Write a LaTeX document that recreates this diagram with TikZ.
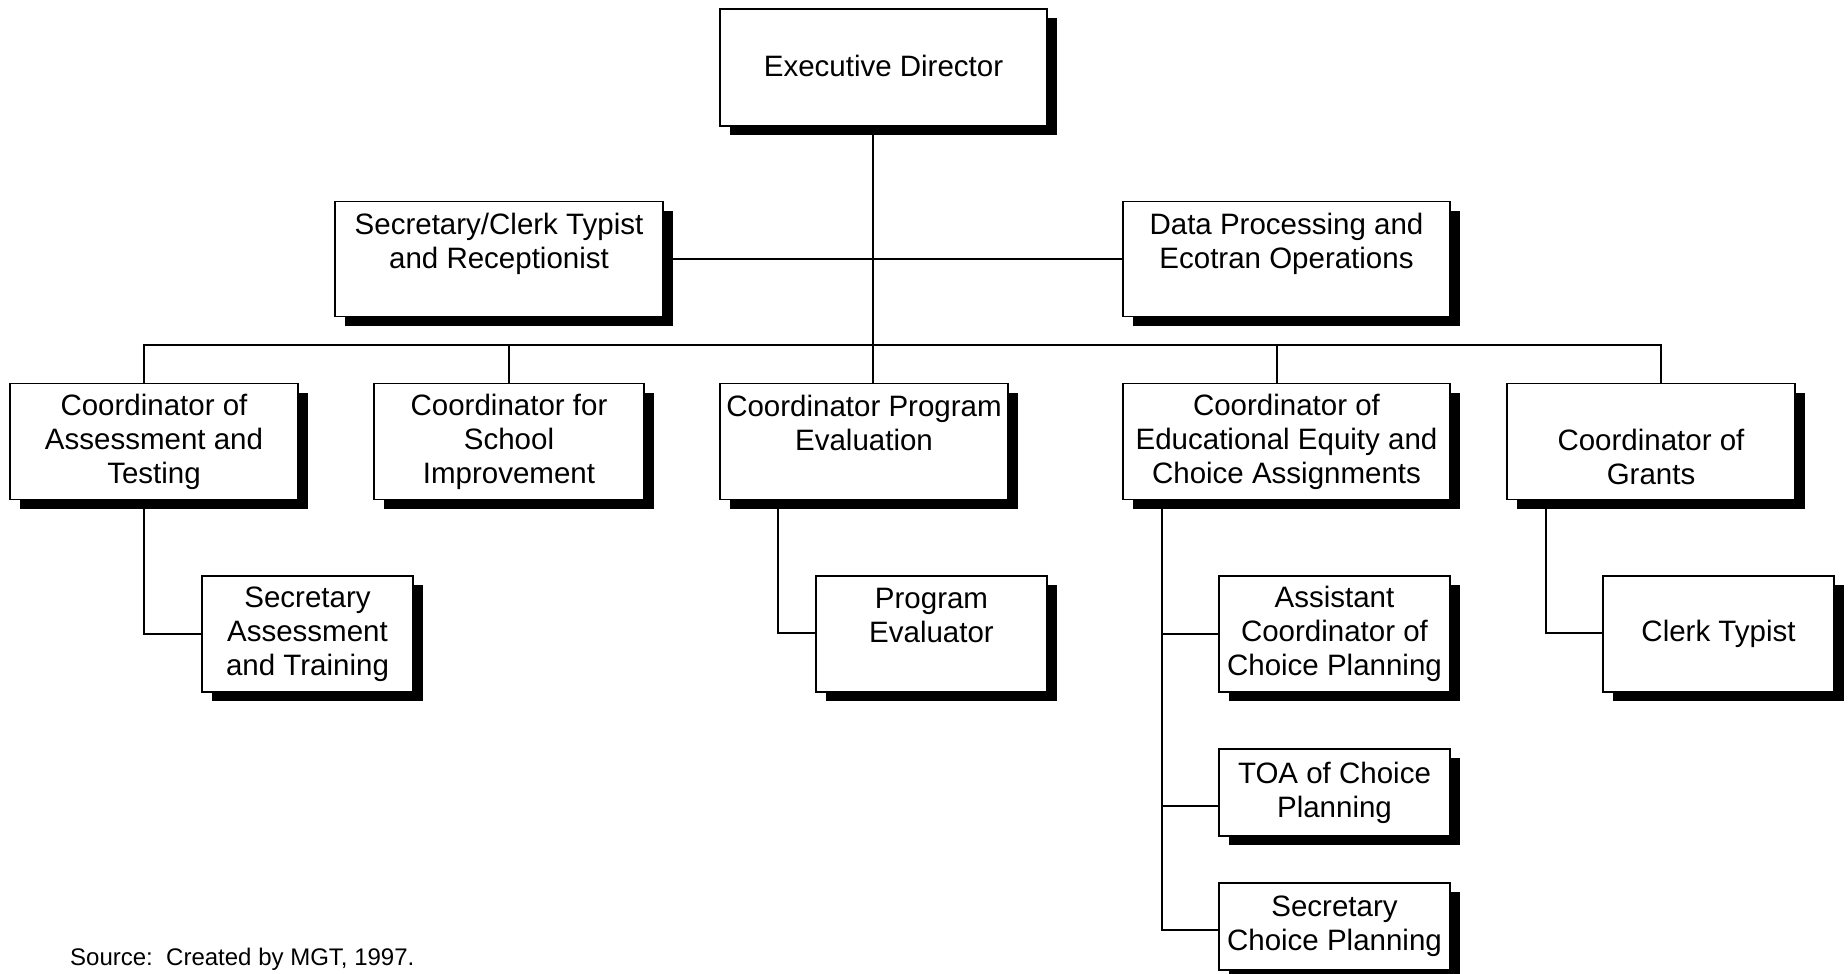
\documentclass[tikz,border=0pt]{standalone}
\usepackage{fontspec}
\setmainfont{Liberation Sans}
\usetikzlibrary{shadows}
\tikzset{
  box/.style={draw=black, line width=1.8pt, fill=white, rectangle, inner sep=0pt,
    align=center, font=\fontsize{29.5}{34}\selectfont,
    drop shadow={shadow xshift=10pt, shadow yshift=-9pt, opacity=1, fill=black}},
  link/.style={draw=black, line width=1.8pt},
}
\begin{document}
\begin{tikzpicture}[x=1pt,y=-1pt]
\useasboundingbox (0,0) rectangle (1848,974);
% boxes
\node[box, minimum width=327pt, minimum height=117pt] (ed) at (883.5,67.5) {\raisebox{2.5pt}{Executive Director}};
\node[box, minimum width=328pt, minimum height=115pt] (sec) at (499,259) {Secretary/Clerk Typist\\and Receptionist\\[-7pt]\strut};
\node[box, minimum width=327pt, minimum height=115pt] (dp) at (1286.5,259) {Data Processing and\\Ecotran Operations\\[-7pt]\strut};
\node[box, minimum width=288pt, minimum height=116pt] (ca) at (154,441.5) {Coordinator of\\Assessment and\\Testing};
\node[box, minimum width=270pt, minimum height=116pt] (cs) at (509,441.5) {Coordinator for\\School\\Improvement};
\node[box, minimum width=288pt, minimum height=116pt] (cp) at (864,441.5) {Coordinator Program\\Evaluation\\[-7pt]\strut};
\node[box, minimum width=327pt, minimum height=116pt] (ce) at (1286.5,441.5) {Coordinator of\\Educational Equity and\\Choice Assignments};
\node[box, minimum width=288pt, minimum height=116pt] (cg) at (1651,441.5) {\strut\\[-5pt]Coordinator of\\Grants};
\node[box, minimum width=211pt, minimum height=116pt] (sa) at (307.5,634) {Secretary\\Assessment\\and Training};
\node[box, minimum width=231pt, minimum height=116pt] (pe) at (931.5,634) {Program\\Evaluator\\[-7pt]\strut};
\node[box, minimum width=231pt, minimum height=116pt] (ac) at (1334.5,634) {Assistant\\Coordinator of\\Choice Planning};
\node[box, minimum width=231pt, minimum height=87pt] (toa) at (1334.5,792.5) {TOA of Choice\\Planning};
\node[box, minimum width=231pt, minimum height=87pt] (scp) at (1334.5,926.5) {Secretary\\Choice Planning};
\node[box, minimum width=231pt, minimum height=116pt] (ct) at (1718.5,634) {Clerk Typist};
% junction coordinates
\coordinate (bm) at (873,345);
\coordinate (bl) at (144,345);
\coordinate (br) at (1661,345);
\coordinate (be) at (1277,345);
\coordinate (pv) at (778,633);
\coordinate (ev) at (1162,930);
\coordinate (tj) at (1162,806);
\coordinate (gv) at (1546,633);
% connectors
\draw[link] (ed.south -| bm) -- (bm);
\draw[link] (sec.east) -- (dp.west);
\draw[link] (ca.north -| bl) -- (bl) -- (br) -- (cg.north -| br);
\draw[link] (cs.north) -- (cs.north |- bl);
\draw[link] (cp.north -| bm) -- (bm);
\draw[link] (ce.north -| be) -- (be);
\draw[link] (ca.south -| bl) |- (sa.west);
\draw[link] (cp.south -| pv) -- (pv) -- (pe.west |- pv);
\draw[link] (ce.south -| ev) -- (ev) -- (scp.west |- ev);
\draw[link] (ac.west -| ev) -- (ac.west);
\draw[link] (tj) -- (toa.west |- tj);
\draw[link] (cg.south -| gv) -- (gv) -- (ct.west |- gv);
% source
\node[anchor=base west, inner sep=0pt, font=\fontsize{24}{28}\selectfont] (src) at (70,965) {Source:\ \ Created by MGT, 1997.};
\end{tikzpicture}
\end{document}
